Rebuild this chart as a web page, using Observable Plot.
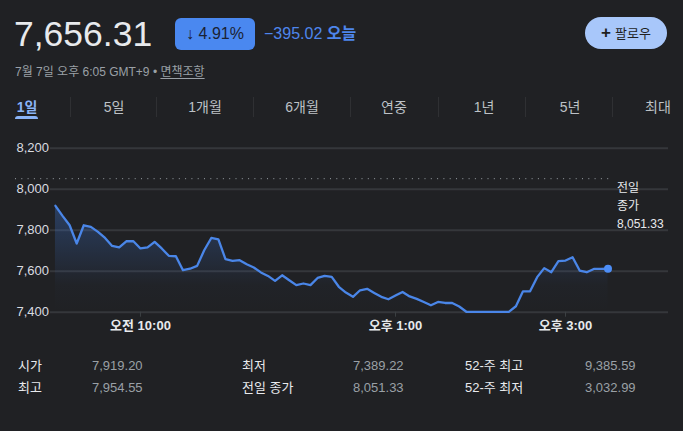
<!DOCTYPE html>
<html>
<head>
<meta charset="utf-8">
<script src="https://cdn.jsdelivr.net/npm/d3@7"></script>
<script src="https://cdn.jsdelivr.net/npm/@observablehq/plot@0.6"></script>
<style>
  html, body { margin:0; padding:0; background:#202124; }
  body { width:683px; height:431px; position:relative; overflow:hidden;
         font-family:"Liberation Sans", Arial, "Noto Sans CJK KR", sans-serif; color:#e8eaed; }
  .abs { position:absolute; white-space:nowrap; }
  #price { left:14px; top:17px; font-size:35.5px; line-height:35px; color:#e8eaed; }
  #badge { left:175px; top:18px; width:80px; height:32px; border-radius:6px; background:#4a88f0;
           color:#1b2233; font-size:16px; line-height:32px; text-align:center; }
  #chg { left:264px; top:24px; font-size:16px; line-height:20px; color:#4e86ec; }
  #chg b { font-weight:bold; }
  #follow { left:585px; top:17px; width:82px; height:32px; border-radius:16px; background:#a8c7fa;
            color:#1f1f1f; font-size:13px; line-height:32px; text-align:center; }
  #follow span { font-size:17px; font-weight:bold; margin-right:4px; }
  #sub { left:15px; top:64px; font-size:12px; line-height:16px; color:#9aa0a6; }
  #sub u { text-underline-offset:2px; }
  .tab { top:98px; font-size:14px; line-height:18px; color:#bdc1c6; transform:translateX(-50%); }
  .sep { top:97px; width:1px; height:20px; background:#2f3033; }
  #uline { left:15px; top:116px; width:23px; height:3px; border-radius:3px 3px 0 0; background:#8ab4f8; }
  #chart { left:0; top:135px; }
  #note { left:617px; top:179px; font-size:12px; line-height:18px; color:#e8eaed; }
  .st { font-size:13px; line-height:16px; }
  .lab { color:#e8eaed; }
  .val { color:#9aa0a6; }
</style>
</head>
<body>
<div id="price" class="abs"></div>
<div id="badge" class="abs"></div>
<div id="chg" class="abs"></div>
<div id="follow" class="abs"><span>+</span>팔로우</div>
<div id="sub" class="abs">7월 7일 오후 6:05 GMT+9 • <u>면책조항</u></div>
<div id="tabs"></div>
<div id="uline" class="abs"></div>
<div id="chart" class="abs"></div>
<div id="note" class="abs"></div>
<div id="stats"></div>
<script>
// ---- data ----
const lastPrice = 7656.31;
const changePct = -4.91;
const changeAbs = -395.02;
const prevClose = 8051.33;
const tabLabels = ["1일", "5일", "1개월", "6개월", "연중", "1년", "5년", "최대"];
// intraday values, 5-minute samples from 09:00 to 15:30
const values = [
  7919, 7870, 7824, 7735, 7824, 7816, 7792, 7762, 7723, 7716,
  7746, 7746, 7711, 7716, 7743, 7711, 7675, 7673, 7605, 7612,
  7626, 7702, 7762, 7755, 7659, 7650, 7654, 7634, 7618, 7594,
  7577, 7553, 7580, 7556, 7532, 7540, 7532, 7567, 7577, 7572,
  7524, 7496, 7475, 7507, 7514, 7494, 7475, 7463, 7481, 7499,
  7477, 7465, 7450, 7434, 7450, 7445, 7445, 7428, 7402, 7402,
  7402, 7402, 7402, 7402, 7402, 7429, 7502, 7502, 7571, 7615,
  7595, 7649, 7652, 7668, 7603, 7595, 7611, 7611, 7612
];
const startMinute = 9 * 60;   // 09:00
const stepMinutes = 5;
const yTicks = [7400, 7600, 7800, 8000, 8200];
const xTicks = [600, 780, 900];
const xTickLabels = ["오전 10:00", "오후 1:00", "오후 3:00"];
const statLabels = [["시가", "최고"], ["최저", "전일 종가"], ["52-주 최고", "52-주 최저"]];
const statValues = [["7,919.20", "7,954.55"], ["7,389.22", "8,051.33"], ["9,385.59", "3,032.99"]];

// ---- header ----
const fmt2 = d3.format(",.2f");
document.getElementById("price").textContent = fmt2(lastPrice);
document.getElementById("badge").textContent = (changePct < 0 ? "↓ " : "↑ ") + Math.abs(changePct).toFixed(2) + "%";
document.getElementById("chg").innerHTML = (changeAbs < 0 ? "−" : "+") + Math.abs(changeAbs).toFixed(2) + " <b>오늘</b>";
document.getElementById("note").innerHTML = "전일<br>종가<br>" + fmt2(prevClose);

// tabs
const tabX = [27, 114, 205, 302, 394, 484, 570, 658];
const sepX = [70, 156, 253, 350, 438, 525, 612];
const tabsEl = document.getElementById("tabs");
tabLabels.forEach((t, i) => {
  const d = document.createElement("div");
  d.className = "abs tab";
  d.style.left = tabX[i] + "px";
  d.textContent = t;
  if (i === 0) { d.style.color = "#8ab4f8"; d.style.fontWeight = "bold"; }
  tabsEl.appendChild(d);
});
sepX.forEach(x => {
  const d = document.createElement("div");
  d.className = "abs sep";
  d.style.left = x + "px";
  tabsEl.appendChild(d);
});

// stats
const colX = [[18, 92], [242, 353], [465, 585]];
const rowY = [358, 380];
const statsEl = document.getElementById("stats");
statLabels.forEach((col, c) => col.forEach((lab, r) => {
  const a = document.createElement("div");
  a.className = "abs st lab"; a.style.left = colX[c][0] + "px"; a.style.top = rowY[r] + "px";
  a.textContent = lab; statsEl.appendChild(a);
  const b = document.createElement("div");
  b.className = "abs st val"; b.style.left = colX[c][1] + "px"; b.style.top = rowY[r] + "px";
  b.textContent = statValues[c][r]; statsEl.appendChild(b);
}));

// ---- chart ----
const data = values.map((v, i) => ({t: startMinute + i * stepMinutes, v}));
const last = data[data.length - 1];

const gradient = () => {
  const ns = "http://www.w3.org/2000/svg";
  const defs = document.createElementNS(ns, "defs");
  const lg = document.createElementNS(ns, "linearGradient");
  lg.setAttribute("id", "areaGrad");
  lg.setAttribute("x1", "0"); lg.setAttribute("y1", "0");
  lg.setAttribute("x2", "0"); lg.setAttribute("y2", "1");
  [[0, 0.30], [0.75, 0.02], [1, 0]].forEach(([o, a]) => {
    const s = document.createElementNS(ns, "stop");
    s.setAttribute("offset", o);
    s.setAttribute("stop-color", "#4285f4");
    s.setAttribute("stop-opacity", a);
    lg.appendChild(s);
  });
  defs.appendChild(lg);
  return defs;
};

const plot = Plot.plot({
  width: 683,
  height: 200,
  marginLeft: 50,
  marginRight: 15,
  marginTop: 12.7,
  marginBottom: 23.3,
  style: {background: "transparent", fontFamily: "'Liberation Sans', Arial, 'Noto Sans CJK KR', sans-serif", overflow: "visible"},
  x: {domain: [536.5, 972.7], axis: null},
  y: {domain: [7400, 8200], axis: null},
  marks: [
    gradient,
    Plot.ruleY(yTicks, {stroke: "#35373b", strokeWidth: 2}),
    Plot.text(yTicks, {y: d => d, text: d => d3.format(",")(d), frameAnchor: "left", dx: -34,
      textAnchor: "start", fill: "#dadce0", fontSize: 13}),
    Plot.axisX(xTicks, {tickFormat: (d, i) => xTickLabels[i], tickSize: 5, tickPadding: 4,
      stroke: "#3c4043", fill: "#e8eaed", fontSize: 13, fontWeight: "bold", label: null}),
    Plot.ruleY([prevClose], {stroke: "#9aa0a6", strokeDasharray: "1,5.3", strokeWidth: 1, insetLeft: -35, insetRight: 56}),
    Plot.areaY(data, {x: "t", y1: 7400, y2: "v", fill: "url(#areaGrad)"}),
    Plot.lineY(data, {x: "t", y: "v", stroke: "#4a86e8", strokeWidth: 2.3, curve: "linear"}),
    Plot.dot([last], {x: "t", y: "v", r: 4, fill: "#4d8ef7"})
  ]
});
document.getElementById("chart").appendChild(plot);
</script>
</body>
</html>
